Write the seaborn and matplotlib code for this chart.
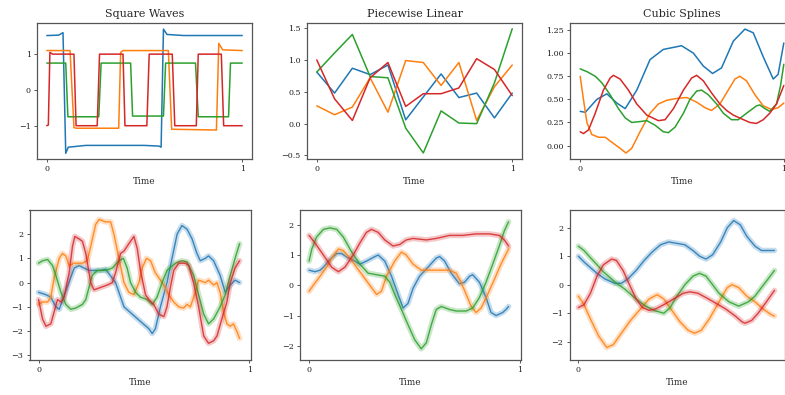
import numpy as np
import matplotlib
matplotlib.use("Agg")
import matplotlib.pyplot as plt
import seaborn as sns

# ---------------- data ----------------
COLORS = ["#1f77b4", "#ff7f0e", "#2ca02c", "#d62728"]

# Square Waves (top-left)
sq_blue_t = [0, 0.06, 0.083, 0.097, 0.11, 0.2, 0.5, 0.575, 0.585, 0.597, 0.615, 0.7, 1.0]
sq_blue_v = [1.52, 1.53, 1.6, -1.77, -1.6, -1.55, -1.55, -1.57, -1.6, 1.7, 1.55, 1.52, 1.52]
sq_orange_t = [0, 0.119, 0.139, 0.15, 0.368, 0.378, 0.39, 0.622, 0.639, 0.65, 0.868, 0.88, 0.9, 1.0]
sq_orange_v = [1.1, 1.1, -1.05, -1.07, -1.07, 1.05, 1.1, 1.1, -1.1, -1.1, -1.12, 1.3, 1.12, 1.1]
sq_green_t = [0, 0.097, 0.108, 0.266, 0.278, 0.429, 0.439, 0.597, 0.608, 0.761, 0.775, 0.93, 0.94, 1.0]
sq_green_v = [0.75, 0.75, -0.75, -0.75, 0.75, 0.75, -0.73, -0.73, 0.75, 0.75, -0.75, -0.75, 0.75, 0.75]
sq_red_t = [0, 0.008, 0.016, 0.03, 0.139, 0.15, 0.258, 0.27, 0.39, 0.4, 0.512, 0.524, 0.642,
            0.655, 0.765, 0.775, 0.893, 0.905, 1.0]
sq_red_v = [-1.0, -0.98, 1.05, 1.0, 1.0, -1.0, -1.0, 1.0, 1.0, -1.0, -1.0, 1.0, 1.0,
            -1.0, -1.0, 1.0, 1.0, -1.0, -1.0]

# Piecewise Linear (top-middle)
pl_t = [0, 0.091, 0.182, 0.273, 0.364, 0.455, 0.545, 0.636, 0.727, 0.818, 0.909, 1.0]
pl_blue = [0.81, 0.48, 0.87, 0.77, 0.92, 0.06, 0.42, 0.78, 0.41, 0.48, 0.09, 0.48]
pl_orange = [0.28, 0.14, 0.26, 0.72, 0.18, 0.99, 0.96, 0.60, 0.96, 0.05, 0.58, 0.92]
pl_green = [0.81, 1.11, 1.40, 0.74, 0.72, -0.07, -0.46, 0.20, 0.01, 0.0, 0.64, 1.49]
pl_red = [1.0, 0.39, 0.05, 0.72, 0.96, 0.27, 0.47, 0.47, 0.56, 1.02, 0.85, 0.44]

# Cubic Splines (top-right)
cs_blue_t = [0, 0.025, 0.082, 0.131, 0.180, 0.221, 0.278, 0.343, 0.408, 0.498, 0.556, 0.605,
             0.650, 0.694, 0.752, 0.809, 0.850, 0.899, 0.948, 0.972, 1.0]
cs_blue_v = [0.37, 0.36, 0.50, 0.56, 0.46, 0.40, 0.60, 0.93, 1.04, 1.08, 1.00, 0.86,
             0.78, 0.84, 1.13, 1.26, 1.22, 0.96, 0.72, 0.77, 1.11]
cs_orange_t = [0, 0.016, 0.033, 0.057, 0.090, 0.123, 0.147, 0.196, 0.225, 0.253, 0.294, 0.343,
               0.384, 0.425, 0.474, 0.523, 0.572, 0.613, 0.645, 0.686, 0.727, 0.760, 0.784,
               0.817, 0.858, 0.899, 0.940, 0.972, 1.0]
cs_orange_v = [0.75, 0.50, 0.25, 0.12, 0.09, 0.09, 0.05, -0.03, -0.08, -0.03, 0.15, 0.35,
               0.45, 0.49, 0.51, 0.52, 0.47, 0.41, 0.38, 0.45, 0.60, 0.72, 0.75,
               0.70, 0.55, 0.43, 0.39, 0.41, 0.46]
cs_green_t = [0, 0.033, 0.074, 0.106, 0.147, 0.188, 0.221, 0.253, 0.294, 0.327, 0.368, 0.408,
              0.433, 0.466, 0.507, 0.539, 0.572, 0.596, 0.629, 0.670, 0.703, 0.743, 0.776,
              0.817, 0.866, 0.882, 0.907, 0.931, 0.964, 0.984, 1.0]
cs_green_v = [0.83, 0.80, 0.75, 0.68, 0.55, 0.40, 0.30, 0.25, 0.26, 0.27, 0.22, 0.15,
              0.14, 0.20, 0.35, 0.50, 0.59, 0.60, 0.55, 0.45, 0.35, 0.28, 0.28,
              0.35, 0.43, 0.44, 0.40, 0.37, 0.45, 0.65, 0.88]
cs_red_t = [0, 0.016, 0.041, 0.074, 0.114, 0.147, 0.163, 0.196, 0.237, 0.278, 0.327, 0.384,
            0.417, 0.458, 0.507, 0.547, 0.572, 0.605, 0.645, 0.686, 0.719, 0.752, 0.792,
            0.833, 0.866, 0.899, 0.931, 0.964, 1.0]
cs_red_v = [0.15, 0.13, 0.17, 0.35, 0.60, 0.73, 0.76, 0.72, 0.60, 0.45, 0.33, 0.27,
            0.28, 0.40, 0.60, 0.73, 0.76, 0.70, 0.57, 0.45, 0.38, 0.33, 0.29,
            0.25, 0.24, 0.28, 0.35, 0.45, 0.65]

# Bottom-left
bl_blue_t = [0, 0.035, 0.058, 0.082, 0.098, 0.169, 0.192, 0.239, 0.294, 0.318, 0.365, 0.405,
             0.444, 0.483, 0.523, 0.539, 0.554, 0.578, 0.609, 0.633, 0.657, 0.680, 0.704,
             0.728, 0.751, 0.767, 0.791, 0.806, 0.830, 0.861, 0.885, 0.909, 0.932, 0.953]
bl_blue_v = [-0.4, -0.5, -0.6, -1.0, -1.1, 0.6, 0.7, 0.5, 0.5, 0.55, 0.0, -1.0,
             -1.3, -1.6, -1.9, -2.1, -1.9, -1.0, 0.0, 1.0, 2.0, 2.35, 2.2,
             1.8, 1.2, 0.9, 1.0, 1.1, 0.9, 0.3, -0.4, -0.1, 0.1, 0.0]
bl_orange_t = [0, 0.019, 0.043, 0.058, 0.074, 0.098, 0.113, 0.129, 0.145, 0.169, 0.208, 0.231,
               0.250, 0.271, 0.287, 0.318, 0.342, 0.357, 0.381, 0.405, 0.428, 0.452, 0.476,
               0.491, 0.512, 0.531, 0.554, 0.594, 0.617, 0.641, 0.665, 0.688, 0.704, 0.720,
               0.743, 0.759, 0.791, 0.806, 0.830, 0.846, 0.861, 0.877, 0.893, 0.909, 0.924,
               0.940, 0.953]
bl_orange_v = [-0.9, -0.8, -0.8, -0.6, 0.2, 1.0, 1.2, 1.1, 0.7, 0.8, 0.8, 0.9,
               1.6, 2.4, 2.6, 2.5, 2.5, 2.0, 1.0, 0.0, -0.4, -0.5, 0.0,
               0.6, 1.0, 0.9, 0.4, -0.1, -0.5, -0.8, -1.0, -1.05, -0.9, -1.0,
               -0.4, 0.1, 0.0, 0.1, -0.1, 0.0, -0.4, -1.2, -1.7, -1.8, -1.7,
               -2.0, -2.3]
bl_green_t = [0, 0.019, 0.043, 0.066, 0.082, 0.106, 0.129, 0.153, 0.176, 0.208, 0.224, 0.239,
              0.255, 0.279, 0.318, 0.350, 0.381, 0.402, 0.420, 0.436, 0.460, 0.483, 0.515,
              0.539, 0.562, 0.586, 0.609, 0.649, 0.680, 0.704, 0.735, 0.759, 0.783, 0.806,
              0.830, 0.861, 0.885, 0.909, 0.932, 0.953]
bl_green_v = [0.8, 0.9, 0.95, 0.7, 0.3, -0.4, -0.9, -1.1, -1.05, -0.9, -0.7, -0.2,
              0.3, 0.5, 0.5, 0.6, 0.9, 1.0, 0.6, 0.0, -0.4, -0.6, -0.7,
              -0.9, -0.6, 0.0, 0.5, 0.8, 0.9, 0.85, 0.3, -0.5, -1.3, -1.7,
              -1.5, -1.0, -0.5, 0.3, 1.0, 1.6]
bl_red_t = [0, 0.019, 0.035, 0.058, 0.074, 0.090, 0.106, 0.121, 0.145, 0.161, 0.172, 0.192,
            0.208, 0.224, 0.247, 0.263, 0.294, 0.326, 0.350, 0.365, 0.389, 0.405, 0.428,
            0.452, 0.468, 0.483, 0.507, 0.523, 0.546, 0.570, 0.594, 0.609, 0.625, 0.641,
            0.665, 0.696, 0.712, 0.735, 0.759, 0.783, 0.806, 0.830, 0.846, 0.869, 0.893,
            0.909, 0.932, 0.953]
bl_red_v = [-0.7, -1.5, -1.8, -1.7, -1.2, -0.7, -0.8, -0.6, 0.4, 1.5, 1.9, 1.8,
            1.7, 1.2, 0.0, -0.3, -0.2, -0.1, 0.0, 0.4, 1.2, 1.3, 1.6,
            1.9, 1.4, 0.5, -0.5, -0.7, -0.9, -1.3, -1.4, -1.0, -0.2, 0.5,
            0.8, 0.8, 0.7, 0.0, -1.0, -2.2, -2.5, -2.4, -2.2, -1.5, -0.8,
            0.0, 0.6, 0.9]

# Bottom-middle
bm_blue_t = [0, 0.028, 0.052, 0.068, 0.099, 0.131, 0.154, 0.186, 0.217, 0.241, 0.272, 0.312,
             0.328, 0.359, 0.391, 0.422, 0.446, 0.469, 0.493, 0.524, 0.564, 0.603, 0.619,
             0.643, 0.674, 0.713, 0.737, 0.761, 0.776, 0.808, 0.839, 0.863, 0.887, 0.918,
             0.934, 0.946]
bm_blue_v = [0.5, 0.45, 0.5, 0.6, 0.85, 1.05, 1.05, 0.9, 0.8, 0.7, 0.8, 0.95,
             1.0, 0.8, 0.3, -0.3, -0.75, -0.6, -0.1, 0.3, 0.6, 0.9, 0.95,
             0.8, 0.4, 0.05, 0.1, 0.3, 0.35, 0.1, -0.4, -0.9, -1.0, -0.9,
             -0.8, -0.7]
bm_orange_t = [0, 0.020, 0.052, 0.083, 0.107, 0.139, 0.162, 0.194, 0.225, 0.257, 0.288, 0.320,
               0.343, 0.367, 0.406, 0.438, 0.461, 0.493, 0.532, 0.572, 0.619, 0.666, 0.698,
               0.721, 0.745, 0.769, 0.792, 0.816, 0.847, 0.879, 0.910, 0.946]
bm_orange_v = [-0.2, 0.0, 0.3, 0.6, 0.9, 1.2, 1.15, 0.9, 0.6, 0.3, 0.0, -0.3,
               -0.2, 0.3, 0.8, 1.1, 1.0, 0.7, 0.5, 0.5, 0.5, 0.5, 0.4,
               0.1, -0.3, -0.7, -0.9, -0.75, -0.3, 0.2, 0.7, 1.2]
bm_green_t = [0, 0.013, 0.036, 0.068, 0.099, 0.131, 0.162, 0.202, 0.241, 0.280, 0.320, 0.359,
              0.383, 0.406, 0.438, 0.469, 0.501, 0.532, 0.556, 0.580, 0.603, 0.627, 0.666,
              0.698, 0.745, 0.776, 0.808, 0.839, 0.871, 0.902, 0.926, 0.946]
bm_green_v = [0.8, 1.2, 1.6, 1.85, 1.9, 1.85, 1.6, 1.1, 0.7, 0.4, 0.35, 0.3,
              0.1, -0.3, -0.8, -1.3, -1.8, -2.1, -1.9, -1.3, -0.8, -0.7, -0.8,
              -0.85, -0.85, -0.75, -0.4, 0.1, 0.7, 1.3, 1.8, 2.1]
bm_red_t = [0, 0.028, 0.068, 0.107, 0.139, 0.170, 0.209, 0.241, 0.272, 0.296, 0.328, 0.359,
            0.398, 0.430, 0.461, 0.493, 0.556, 0.603, 0.666, 0.729, 0.792, 0.855, 0.902,
            0.926, 0.946]
bm_red_v = [1.65, 1.4, 1.0, 0.6, 0.45, 0.6, 1.0, 1.4, 1.75, 1.85, 1.75, 1.5,
            1.3, 1.35, 1.5, 1.55, 1.5, 1.55, 1.65, 1.65, 1.7, 1.7, 1.65,
            1.5, 1.3]

# Bottom-right
br_blue_t = [0, 0.027, 0.058, 0.090, 0.129, 0.176, 0.208, 0.239, 0.279, 0.318, 0.357, 0.397,
             0.436, 0.476, 0.515, 0.554, 0.586, 0.617, 0.649, 0.688, 0.720, 0.751, 0.783,
             0.814, 0.854, 0.885, 0.917, 0.948]
br_blue_v = [1.0, 0.8, 0.6, 0.4, 0.2, 0.05, 0.05, 0.2, 0.5, 0.85, 1.15, 1.4,
             1.5, 1.45, 1.4, 1.2, 1.0, 0.9, 1.05, 1.5, 2.0, 2.25, 2.1,
             1.7, 1.35, 1.2, 1.2, 1.2]
br_orange_t = [0, 0.027, 0.058, 0.098, 0.137, 0.169, 0.208, 0.247, 0.294, 0.342, 0.381, 0.413,
               0.452, 0.491, 0.531, 0.562, 0.594, 0.633, 0.680, 0.720, 0.743, 0.775, 0.814,
               0.854, 0.893, 0.932, 0.948]
br_orange_v = [-0.4, -0.7, -1.2, -1.8, -2.2, -2.1, -1.7, -1.3, -0.9, -0.5, -0.35, -0.5,
               -0.9, -1.3, -1.6, -1.7, -1.6, -1.2, -0.6, -0.1, 0.0, -0.1, -0.4,
               -0.6, -0.85, -1.05, -1.1]
br_green_t = [0, 0.027, 0.058, 0.090, 0.121, 0.153, 0.184, 0.224, 0.255, 0.287, 0.326, 0.365,
              0.413, 0.444, 0.476, 0.515, 0.554, 0.586, 0.617, 0.649, 0.680, 0.728, 0.775,
              0.822, 0.854, 0.885, 0.917, 0.948]
br_green_v = [1.35, 1.2, 0.95, 0.7, 0.45, 0.25, 0.05, -0.15, -0.35, -0.55, -0.75, -0.9,
              -1.0, -0.8, -0.4, 0.0, 0.3, 0.4, 0.3, 0.0, -0.3, -0.6, -0.75,
              -0.6, -0.4, -0.1, 0.2, 0.5]
br_red_t = [0, 0.027, 0.058, 0.090, 0.121, 0.161, 0.184, 0.216, 0.247, 0.279, 0.310, 0.342,
            0.373, 0.413, 0.460, 0.507, 0.539, 0.578, 0.617, 0.665, 0.712, 0.759, 0.791,
            0.806, 0.838, 0.869, 0.909, 0.948]
br_red_v = [-0.8, -0.7, -0.3, 0.3, 0.7, 0.9, 0.85, 0.5, 0.0, -0.5, -0.8, -0.9,
            -0.85, -0.7, -0.5, -0.3, -0.25, -0.3, -0.45, -0.65, -0.85, -1.1, -1.3,
            -1.35, -1.25, -1.0, -0.6, -0.2]

titles = ["Square Waves", "Piecewise Linear", "Cubic Splines"]

top_series = [
    [(sq_blue_t, sq_blue_v), (sq_orange_t, sq_orange_v), (sq_green_t, sq_green_v), (sq_red_t, sq_red_v)],
    [(pl_t, pl_blue), (pl_t, pl_orange), (pl_t, pl_green), (pl_t, pl_red)],
    [(cs_blue_t, cs_blue_v), (cs_orange_t, cs_orange_v), (cs_green_t, cs_green_v), (cs_red_t, cs_red_v)],
]
bottom_series = [
    [(bl_blue_t, bl_blue_v), (bl_orange_t, bl_orange_v), (bl_green_t, bl_green_v), (bl_red_t, bl_red_v)],
    [(bm_blue_t, bm_blue_v), (bm_orange_t, bm_orange_v), (bm_green_t, bm_green_v), (bm_red_t, bm_red_v)],
    [(br_blue_t, br_blue_v), (br_orange_t, br_orange_v), (br_green_t, br_green_v), (br_red_t, br_red_v)],
]

top_ylims = [(-1.93, 1.87), (-0.555, 1.58), (-0.145, 1.326)]
top_yticks = [[-1, 0, 1], [-0.5, 0.0, 0.5, 1.0, 1.5], [0.0, 0.25, 0.5, 0.75, 1.0, 1.25]]
top_yfmt = ["{:.0f}", "{:.1f}", "{:.2f}"]
bot_ylims = [(-3.19, 2.99), (-2.47, 2.49), (-2.64, 2.62)]
bot_yticks = [[-3, -2, -1, 0, 1, 2], [-2, -1, 0, 1, 2], [-2, -1, 0, 1, 2]]

# ---------------- style ----------------
sns.set_style("ticks")
plt.rcParams["font.family"] = ["DejaVu Serif"]
plt.rcParams["axes.edgecolor"] = "#555555"
plt.rcParams["axes.linewidth"] = 0.9
plt.rcParams["xtick.color"] = "#555555"
plt.rcParams["ytick.color"] = "#555555"
plt.rcParams["xtick.labelcolor"] = "#222222"
plt.rcParams["ytick.labelcolor"] = "#222222"

W, H = 785, 395
fig = plt.figure(figsize=(W / 100, H / 100), dpi=100)

top_lefts = [37, 307, 570]
top_widths = [215, 215, 224]
bot_lefts = [29.5, 300, 569.5]
bot_widths = [221, 221, 215.5]
bot_xmax = [1.005, 1.005, 0.999]


def style_axes(ax):
    ax.tick_params(axis="both", labelsize=5.8, length=2.5, width=0.7, pad=2)
    ax.set_xlabel("Time", fontsize=6.4, labelpad=3)
    ax.set_ylabel("")
    for s in ax.spines.values():
        s.set_visible(True)


for i in range(3):
    ax = fig.add_axes([top_lefts[i] / W, 1 - 159 / H, top_widths[i] / W, 136 / H])
    for c, (t, v) in zip(COLORS, top_series[i]):
        sns.lineplot(x=np.array(t), y=np.array(v), ax=ax, color=c, lw=1.1,
                     estimator=None, sort=False)
    ax.set_xlim(-0.05, 1.05)
    ax.set_ylim(*top_ylims[i])
    ax.set_xticks([0, 1])
    ax.set_xticklabels(["0", "1"])
    ax.set_yticks(top_yticks[i])
    ax.set_yticklabels([top_yfmt[i].format(v).replace("-", "\u2212") for v in top_yticks[i]])
    ax.set_title(titles[i], fontsize=8, pad=4)
    style_axes(ax)

for i in range(3):
    ax = fig.add_axes([bot_lefts[i] / W, 1 - 360 / H, bot_widths[i] / W, 150 / H])
    for c, (t, v) in zip(COLORS, bottom_series[i]):
        tt = np.array(t)
        vv = np.array(v)
        sns.lineplot(x=tt, y=vv, ax=ax, color=c, lw=4.0, alpha=0.25,
                     estimator=None, sort=False)
        sns.lineplot(x=tt, y=vv, ax=ax, color=c, lw=1.0, alpha=0.85,
                     estimator=None, sort=False)
    ax.set_xlim(-0.043, bot_xmax[i])
    ax.set_ylim(*bot_ylims[i])
    ticks = [v for v in [0, 1] if v <= bot_xmax[i]]
    ax.set_xticks(ticks)
    ax.set_xticklabels([str(v) for v in ticks])
    ax.set_yticks(bot_yticks[i])
    ax.set_yticklabels([("{:d}".format(v)).replace("-", "\u2212") for v in bot_yticks[i]])
    style_axes(ax)

fig.savefig("out.png", dpi=100)
